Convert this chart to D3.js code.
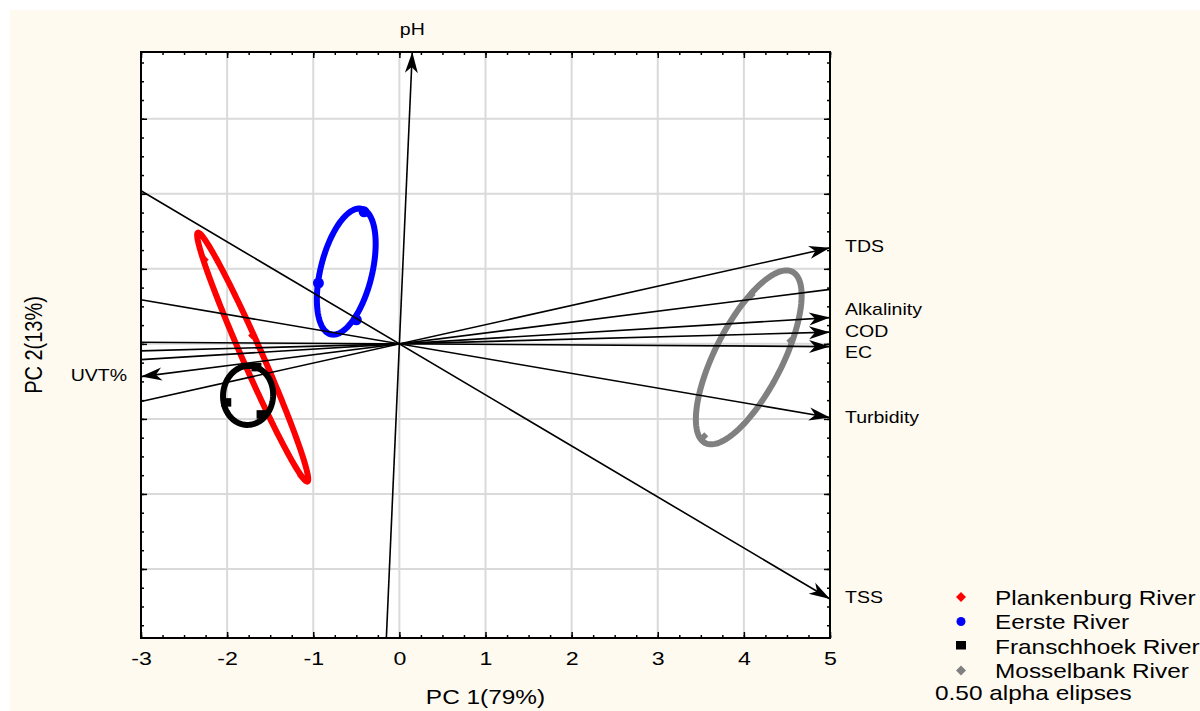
<!DOCTYPE html>
<html>
<head>
<meta charset="utf-8">
<script src="https://cdn.jsdelivr.net/npm/d3@7"></script>
<style>
  body { margin: 0; background: #fff; }
  svg text { font-family: "Liberation Sans", Arial, sans-serif; fill: #000; }
</style>
</head>
<body>
<div id="chart"></div>
<script>
// groups (rivers) shown in the legend
var groups = ["Plankenburg River", "Eerste River", "Franschhoek River", "Mosselbank River"];

// PC1 / PC2 scores of the samples of each river
var plankenburgScores = [[-2.26, 1.12], [-1.71, 0.11], [-1.14, -1.76]];
var eersteScores = [[-0.94, 0.81], [-0.41, 1.76], [-0.50, 0.32]];
var franschhoekScores = [[-2.01, -0.79], [-1.60, -0.95], [-1.66, -0.32]];
var mosselbankScores = [[4.54, 0.04], [3.54, -1.23], [4.09, 0.65]];

// 0.50 alpha ellipses: two conjugate half axes (PC1, PC2) per group
var ellipseAxisA = [[0.636, -1.658], [0.180, 0.836], [0.023, 0.393], [0.506, 1.141]];
var ellipseAxisB = [[0.106, 0.054], [0.290, -0.083], [0.290, -0.020], [0.348, -0.204]];

// variable vectors (tip on PC1, PC2)
var variables = ["pH", "TDS", "Alkalinity", "COD", "EC", "Turbidity", "TSS", "UVT%"];
var loadPC1 = [0.15, 5, 5, 5, 5, 5, 5, -3];
var loadPC2 = [3.89, 1.28, 0.35, 0.156, -0.036, -0.982, -3.40, -0.436];

// axis ticks
var xTicks = [-3, -2, -1, 0, 1, 2, 3, 4, 5];
var yTicks = [-3, -2, -1, 0, 1, 2, 3];

var scoresByGroup = [plankenburgScores, eersteScores, franschhoekScores, mosselbankScores];

function drawBiplot() {
  var w = 1200, h = 711;
  var left = 141, right = 830, top = 52, bottom = 638;
  var SX = 1.22; // the text in the picture is drawn a bit wide

  var svg = d3.select("#chart").append("svg")
    .attr("width", w)
    .attr("height", h);

  svg.append("rect").attr("width", w).attr("height", h).attr("fill", "#ffffff");
  svg.append("rect").attr("x", 10).attr("y", 10)
    .attr("width", w - 10).attr("height", h - 10).attr("fill", "#fffaf0");

  var xScale = d3.scaleLinear().domain([-3, 5]).range([left, right]);
  var yScale = d3.scaleLinear().domain([-3.92, 3.89]).range([bottom, top]);

  var color = d3.scaleOrdinal().domain(groups)
    .range(["#ff0000", "#0000ff", "#000000", "#808080"]);
  var shape = d3.scaleOrdinal().domain(groups)
    .range(["diamond", "circle", "square", "diamond"]);

  function stretchText(parent, x, y, str, size, anchor, extra) {
    return parent.append("text")
      .attr("transform", "translate(" + x + "," + y + ") scale(" + SX + ",1)" + (extra || ""))
      .attr("text-anchor", anchor || "start")
      .style("font-size", size + "px")
      .text(str);
  }

  function marker(g, kind, cx, cy, s, fill) {
    if (kind === "circle") {
      g.append("circle").attr("cx", cx).attr("cy", cy).attr("r", s / 2).attr("fill", fill);
    } else if (kind === "square") {
      g.append("rect").attr("x", cx - s / 2).attr("y", cy - s / 2)
        .attr("width", s).attr("height", s * 0.85).attr("fill", fill);
    } else {
      g.append("path")
        .attr("d", "M" + cx + "," + (cy - s / 2) + "L" + (cx + s / 2) + "," + cy +
          "L" + cx + "," + (cy + s / 2) + "L" + (cx - s / 2) + "," + cy + "Z")
        .attr("fill", fill);
    }
  }

  // plot area
  svg.append("rect")
    .attr("x", left).attr("y", top)
    .attr("width", right - left).attr("height", bottom - top)
    .attr("fill", "#ffffff");

  // grid
  var grid = svg.append("g");
  grid.selectAll(".vgrid")
    .data(xTicks.slice(1, -1))
    .enter().append("line")
    .attr("x1", function (d) { return xScale(d); })
    .attr("x2", function (d) { return xScale(d); })
    .attr("y1", top).attr("y2", bottom)
    .attr("stroke", "#dadada").attr("stroke-width", 2);
  grid.selectAll(".hgrid")
    .data(yTicks)
    .enter().append("line")
    .attr("y1", function (d) { return yScale(d); })
    .attr("y2", function (d) { return yScale(d); })
    .attr("x1", left).attr("x2", right)
    .attr("stroke", "#dadada").attr("stroke-width", 2);

  // ellipses around the group means
  var ellipseLine = d3.line().curve(d3.curveLinearClosed);
  var angles = d3.range(0, 2 * Math.PI, Math.PI / 90);
  var plot = svg.append("g");

  groups.forEach(function (name, i) {
    var pts = scoresByGroup[i];
    var cx = d3.mean(pts, function (p) { return p[0]; });
    var cy = d3.mean(pts, function (p) { return p[1]; });
    var a = ellipseAxisA[i], b = ellipseAxisB[i];
    var ring = angles.map(function (t) {
      return [
        xScale(cx + a[0] * Math.cos(t) + b[0] * Math.sin(t)),
        yScale(cy + a[1] * Math.cos(t) + b[1] * Math.sin(t))
      ];
    });
    plot.append("path")
      .attr("d", ellipseLine(ring))
      .attr("fill", "none")
      .attr("stroke", color(name))
      .attr("stroke-width", 6);

    var size = shape(name) === "square" ? 10 : (i === 1 ? 11 : 8);
    pts.forEach(function (p) {
      marker(plot, shape(name), xScale(p[0]), yScale(p[1]), size, color(name));
    });
  });

  // variable vectors, drawn right across the plot through the origin
  svg.append("defs").append("marker")
    .attr("id", "arrow")
    .attr("markerUnits", "userSpaceOnUse")
    .attr("viewBox", "-22 -8 24 16")
    .attr("refX", 0).attr("refY", 0)
    .attr("markerWidth", 24).attr("markerHeight", 16)
    .attr("orient", "auto")
    .append("path")
    .attr("d", "M0,0L-21,-6.5L-15,0L-21,6.5Z")
    .attr("fill", "#000");

  var xd = xScale.domain(), yd = yScale.domain();
  var labelDy = { "TDS": 4, "Alkalinity": -3, "COD": 5, "EC": 11, "Turbidity": 5, "TSS": 4 };

  var vecs = svg.append("g");
  variables.forEach(function (name, i) {
    var tx = loadPC1[i], ty = loadPC2[i];
    // stretch back to the opposite border
    var t = Infinity;
    if (tx > 0) t = Math.min(t, -xd[0] / tx);
    if (tx < 0) t = Math.min(t, xd[1] / -tx);
    if (ty > 0) t = Math.min(t, -yd[0] / ty);
    if (ty < 0) t = Math.min(t, yd[1] / -ty);

    vecs.append("line")
      .attr("x1", xScale(-t * tx)).attr("y1", yScale(-t * ty))
      .attr("x2", xScale(tx)).attr("y2", yScale(ty))
      .attr("stroke", "#000")
      .attr("stroke-width", 1.6)
      .attr("marker-end", "url(#arrow)");

    var px = xScale(tx), py = yScale(ty);
    if (name === "pH") {
      stretchText(svg, px, py - 17, name, 16, "middle");
    } else if (tx < 0) {
      stretchText(svg, px - 14, py + 4, name, 16, "end");
    } else {
      stretchText(svg, px + 15, py + (labelDy[name] || 4), name, 16, "start");
    }
  });

  // axes: ticks point into the plot
  var xMinor = d3.range(-3, 5.001, 0.25);
  var yMinor = d3.range(-3.75, 3.76, 0.25);

  function tickAxis(axisFn, scale, values, size, transform) {
    var g = svg.append("g")
      .attr("transform", transform)
      .call(axisFn(scale).tickValues(values).tickSizeInner(-size).tickSizeOuter(0).tickFormat(""));
    g.select(".domain").remove();
    g.selectAll("line").attr("stroke", "#000").attr("stroke-width", 1.5);
    return g;
  }

  tickAxis(d3.axisBottom, xScale, xMinor, 3, "translate(0," + bottom + ")");
  tickAxis(d3.axisTop, xScale, xMinor, 3, "translate(0," + top + ")");
  tickAxis(d3.axisLeft, yScale, yMinor, 3, "translate(" + left + ",0)");
  tickAxis(d3.axisRight, yScale, yMinor, 3, "translate(" + right + ",0)");
  tickAxis(d3.axisTop, xScale, xTicks, 6, "translate(0," + top + ")");
  tickAxis(d3.axisLeft, yScale, yTicks, 6, "translate(" + left + ",0)");
  tickAxis(d3.axisRight, yScale, yTicks, 6, "translate(" + right + ",0)");

  var xAxis = svg.append("g")
    .attr("transform", "translate(0," + bottom + ")")
    .call(d3.axisBottom(xScale).tickValues(xTicks).tickSizeInner(-6).tickSizeOuter(0)
      .tickPadding(14).tickFormat(function (d) { return String(d); }));
  xAxis.select(".domain").remove();
  xAxis.selectAll("line").attr("stroke", "#000").attr("stroke-width", 1.5);
  xAxis.selectAll("text")
    .attr("transform", "scale(" + SX + ",1)")
    .style("font-size", "19px")
    .style("font-family", "'Liberation Sans', Arial, sans-serif")
    .attr("fill", "#000");

  // frame
  svg.append("rect")
    .attr("x", left).attr("y", top)
    .attr("width", right - left).attr("height", bottom - top)
    .attr("fill", "none").attr("stroke", "#000").attr("stroke-width", 2);

  // axis titles
  stretchText(svg, (left + right) / 2, 704, "PC 1(79%)", 20, "middle");
  stretchText(svg, 42, (top + bottom) / 2, "PC 2(13%)", 20, "middle", " rotate(-90)");

  // legend
  var legend = svg.append("g");
  groups.forEach(function (name, i) {
    var cy = 597 + i * 24.5;
    var s = shape(name) === "circle" ? 9 : 10;
    marker(legend, shape(name), 961, cy, s, color(name));
    stretchText(legend, 995, cy + 7.5, name, 20, "start");
  });
  stretchText(legend, 935, 700, "0.50 alpha elipses", 20, "start");
}

drawBiplot();
</script>
</body>
</html>
